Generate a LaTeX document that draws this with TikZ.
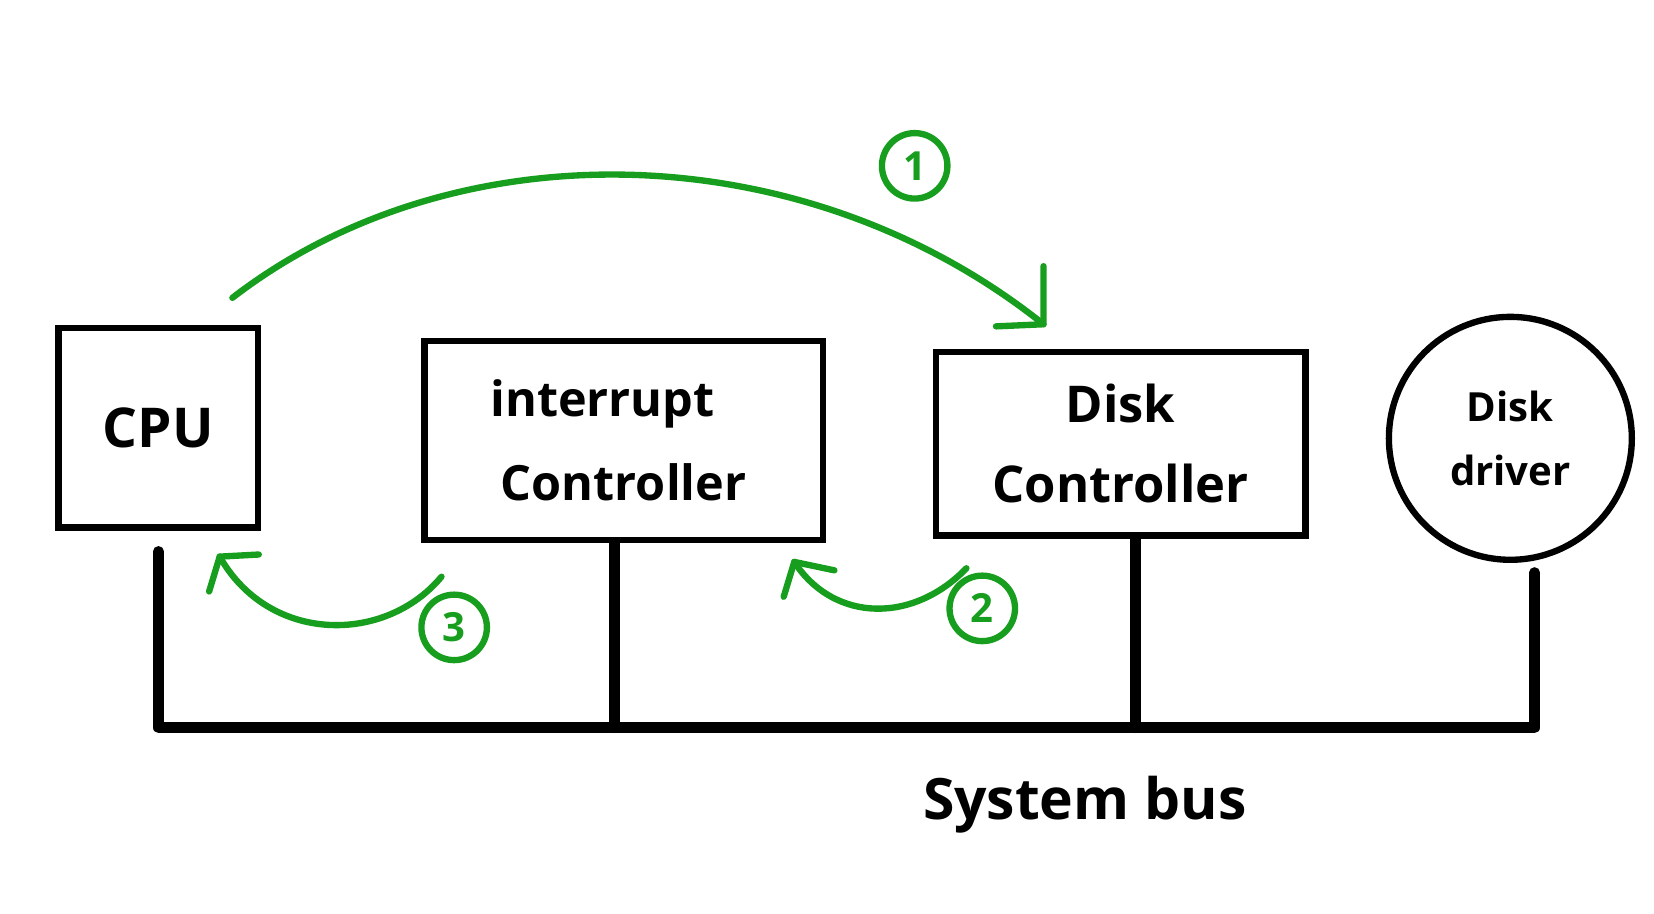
\documentclass[tikz,border=0pt]{standalone}
\usepackage{fontspec}
\setmainfont{Open Sans}
\definecolor{flowgreen}{RGB}{24,158,30}
\begin{document}
\begin{tikzpicture}[x=1pt,y=-1pt,
  box/.style={draw=black,line width=6pt,rectangle,inner sep=0pt,align=center},
  bus/.style={draw=black,line width=10pt,line cap=round,line join=round},
  flow/.style={draw=flowgreen,line width=6pt,line cap=round,line join=round},
  num/.style={draw=flowgreen,line width=6pt,circle,inner sep=0pt,minimum size=62pt,text=flowgreen,font=\bfseries\fontsize{38}{46}\selectfont}]
\useasboundingbox[fill=white] (0,0) rectangle (1566,865);

% components
\node[box,minimum width=189pt,minimum height=189pt,font=\bfseries\fontsize{52}{60}\selectfont] (cpu) at (150,405) {CPU};
\node[box,minimum width=377pt,minimum height=188pt,font=\bfseries\fontsize{46}{80}\selectfont] (ic) at (590.5,417) {\hspace*{-40pt}interrupt\\Controller};
\node[box,minimum width=350pt,minimum height=174pt,font=\bfseries\fontsize{48}{76}\selectfont] (dc) at (1061,420) {Disk\\Controller};
\node[draw=black,line width=6pt,circle,minimum size=230pt,inner sep=0pt,align=center,font=\bfseries\fontsize{38}{60}\selectfont] (dd) at (1430,415) {Disk\\driver};

% bus
\coordinate (b1) at (150,689);
\coordinate (b2) at (582,689);
\coordinate (b3) at (1075,689);
\coordinate (b4) at (1453,689);
\coordinate (t1) at (150,522);
\coordinate (t4) at (1453,542);
\draw[bus] (t1) -- (b1) -- (b4) -- (t4);
\draw[bus] (ic.south -| b2) -- (b2);
\draw[bus] (dc.south -| b3) -- (b3);
\node[font=\bfseries\fontsize{54}{60}\selectfont] (sysbus) at (1027,762) {System bus};

% step 1
\coordinate (s1) at (220,282);
\coordinate (e1) at (988,307);
\draw[flow] (s1) .. controls (430,120) and (760,125) .. (e1);
\draw[flow] (988,252) -- (e1) -- (943,309);
\node[num] (n1) at (866,157) {1};

% step 2
\coordinate (s2) at (915,538);
\coordinate (e2) at (752,532);
\draw[flow] (s2) .. controls (865,590) and (790,590) .. (e2);
\draw[flow] (790,540) -- (e2) -- (742,565);
\node[num] (n2) at (930,576) {2};

% step 3
\coordinate (s3) at (418,546);
\coordinate (e3) at (208,527);
\draw[flow] (s3) .. controls (365,610) and (255,610) .. (e3);
\draw[flow] (245,525) -- (e3) -- (198,560);
\node[num] (n3) at (430,594) {3};
\end{tikzpicture}
\end{document}
